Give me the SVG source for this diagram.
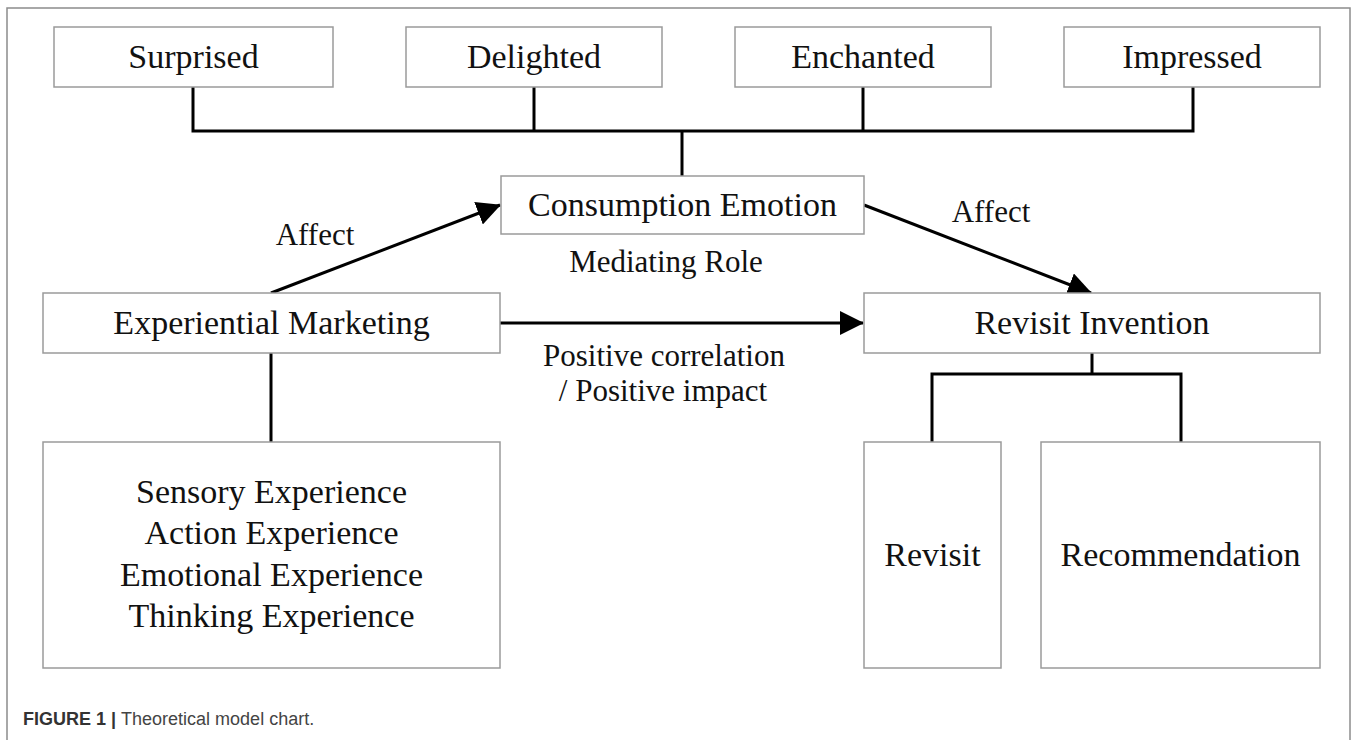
<svg xmlns="http://www.w3.org/2000/svg" width="1358" height="740" viewBox="0 0 1358 740">
<defs>
<style>
.box{fill:#fff;stroke:#9a9a9a;stroke-width:1.5}
.t{font-family:"Liberation Serif","Times New Roman",serif;font-size:34px;fill:#111;text-anchor:middle}
.l{font-family:"Liberation Serif","Times New Roman",serif;font-size:31px;fill:#111;text-anchor:middle}
.c{fill:none;stroke:#000;stroke-width:3}
</style>
<marker id="ah" viewBox="0 0 24 24" refX="23" refY="12" markerWidth="24" markerHeight="24" markerUnits="userSpaceOnUse" orient="auto">
<path d="M0,0 L24,12 L0,24 Z" fill="#000"/>
</marker>
</defs>
<rect x="0" y="0" width="1358" height="740" fill="#fff"/>
<rect x="7" y="8" width="1343" height="760" fill="none" stroke="#8c8c8c" stroke-width="1.5"/>
<g id="connectors">
<polyline class="c" points="193,87 193,131 1193,131 1193,87"/>
<line class="c" x1="534" y1="87" x2="534" y2="131"/>
<line class="c" x1="863" y1="87" x2="863" y2="131"/>
<line class="c" x1="682" y1="131" x2="682" y2="176"/>
<line class="c" x1="271" y1="293" x2="500" y2="205" marker-end="url(#ah)"/>
<line class="c" x1="864" y1="205" x2="1091" y2="293" marker-end="url(#ah)"/>
<line class="c" x1="500" y1="323" x2="863" y2="323" marker-end="url(#ah)"/>
<line class="c" x1="271" y1="353" x2="271" y2="442"/>
<line class="c" x1="1092" y1="353" x2="1092" y2="374"/>
<polyline class="c" points="932,442 932,374 1181,374 1181,442"/>
</g>
<g id="surprised"><rect class="box" x="54" y="27" width="279" height="60"/><text class="t" x="193.5" y="68">Surprised</text></g>
<g id="delighted"><rect class="box" x="406" y="27" width="256" height="60"/><text class="t" x="534" y="68">Delighted</text></g>
<g id="enchanted"><rect class="box" x="735" y="27" width="256" height="60"/><text class="t" x="863" y="68">Enchanted</text></g>
<g id="impressed"><rect class="box" x="1064" y="27" width="256" height="60"/><text class="t" x="1192" y="68">Impressed</text></g>
<g id="consumption-emotion"><rect class="box" x="501" y="176" width="363" height="58"/><text class="t" x="682.5" y="216">Consumption Emotion</text></g>
<g id="experiential-marketing"><rect class="box" x="43" y="293" width="457" height="60"/><text class="t" x="271.5" y="334">Experiential Marketing</text></g>
<g id="revisit-invention"><rect class="box" x="864" y="293" width="456" height="60"/><text class="t" x="1092" y="334">Revisit Invention</text></g>
<g id="experiences"><rect class="box" x="43" y="442" width="457" height="226"/>
<text class="t" x="271.5" y="503">Sensory Experience</text>
<text class="t" x="271.5" y="544">Action Experience</text>
<text class="t" x="271.5" y="586">Emotional Experience</text>
<text class="t" x="271.5" y="627">Thinking Experience</text></g>
<g id="revisit"><rect class="box" x="864" y="442" width="137" height="226"/><text class="t" x="932.5" y="566">Revisit</text></g>
<g id="recommendation"><rect class="box" x="1041" y="442" width="279" height="226"/><text class="t" x="1180.5" y="566">Recommendation</text></g>
<g id="labels">
<text class="l" x="315" y="245">Affect</text>
<text class="l" x="991" y="222">Affect</text>
<text class="l" x="666" y="272">Mediating Role</text>
<text class="l" x="664" y="366">Positive correlation</text>
<text class="l" x="663" y="401">/ Positive impact</text>
</g>
<text x="23" y="725" font-family="'Liberation Sans',Arial,sans-serif" font-size="18" fill="#444"><tspan font-weight="bold" fill="#333">FIGURE 1 | </tspan>Theoretical model chart.</text>
</svg>
